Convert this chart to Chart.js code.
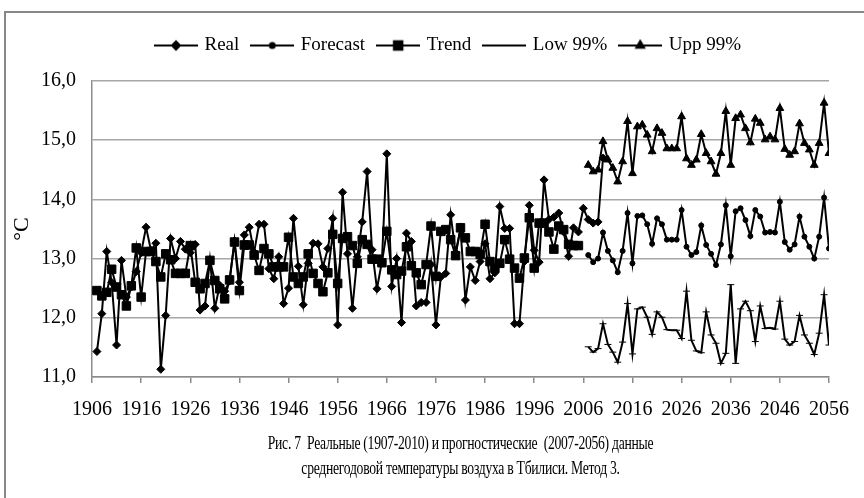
<!DOCTYPE html>
<html><head><meta charset="utf-8">
<script src="https://cdn.jsdelivr.net/npm/chart.js@4.4.1/dist/chart.umd.min.js"></script>
<style>html,body{margin:0;padding:0;background:#fff;} #wrap{position:relative;width:864px;height:498px;}</style>
</head><body><div id="wrap"><canvas id="c" width="864" height="498"></canvas></div>
<script>
// ---- data ----
const realStart = 1907;
const real = [11.43,12.07,13.12,12.60,11.54,12.97,12.35,12.52,12.78,13.10,
13.53,13.14,13.26,11.13,12.04,13.34,13.00,13.29,13.16,13.10,
13.24,12.13,12.20,12.98,12.16,12.55,12.45,12.62,13.30,12.60,
13.40,13.53,13.11,13.58,13.58,12.83,12.66,13.03,12.24,12.50,
13.68,12.87,12.22,12.92,13.26,13.25,12.86,13.17,13.68,11.88,
14.12,13.08,12.16,13.03,13.62,14.47,13.15,12.49,12.95,14.77,
12.53,13.00,11.92,13.43,13.29,12.20,12.26,12.26,12.90,11.88,
12.69,12.75,13.74,13.10,13.50,12.30,12.86,12.63,12.95,13.25,
12.66,12.76,13.88,13.51,13.51,11.90,11.90,12.95,13.90,13.14,
12.94,14.33,13.66,13.70,13.77,13.45,13.04,13.52,13.45,13.85,
13.66,13.60,13.62,14.70];
const trendStart = 1907;
const trend = [12.46,12.37,12.43,12.82,12.52,12.39,12.20,12.54,13.18,12.35,
13.12,13.12,12.95,12.69,13.08,12.98,12.75,12.75,12.75,13.22,
12.60,12.49,12.58,12.97,12.63,12.49,12.32,12.64,13.28,12.46,
13.23,13.23,13.06,12.80,13.17,13.08,12.86,12.86,12.86,13.36,
12.69,12.58,12.69,13.08,12.75,12.58,12.44,12.76,13.41,12.58,
13.34,13.37,13.22,12.92,13.32,13.24,12.99,12.99,12.93,13.46,
12.81,12.73,12.79,13.20,12.88,12.76,12.56,12.90,13.55,12.70,
13.46,13.49,13.32,13.05,13.52,13.35,13.12,13.12,13.07,13.58,
12.95,12.84,12.92,13.32,12.99,12.84,12.67,13.01,13.69,12.84,
13.60,13.60,13.45,13.16,13.55,13.49,13.24,13.22,13.22];
const forecastStart = 2007;
const forecast = [13.06,12.94,13.00,13.44,13.13,12.97,12.77,13.13,13.77,12.92,
13.72,13.73,13.58,13.25,13.68,13.58,13.32,13.32,13.32,13.82,
13.20,13.06,13.11,13.56,13.23,13.08,12.89,13.24,13.90,13.04,
13.80,13.85,13.65,13.38,13.82,13.71,13.44,13.45,13.44,13.96,
13.28,13.15,13.24,13.71,13.37,13.20,13.00,13.37,14.03,13.17];
const low99 = [11.51,11.42,11.48,11.90,11.55,11.42,11.25,11.59,12.24,11.39,
12.15,12.18,12.01,11.72,12.10,12.01,11.80,11.79,11.79,11.65,
12.45,11.62,11.44,11.41,12.10,11.71,11.57,11.23,11.40,12.56,
11.23,12.15,12.28,12.12,11.60,12.20,11.82,11.83,11.81,12.28,
11.64,11.54,11.60,12.04,11.71,11.57,11.38,11.74,12.39,11.54];
const upp99 = [14.58,14.47,14.50,14.98,14.67,14.53,14.30,14.64,15.32,14.44,
15.23,15.26,15.09,14.81,15.20,15.12,14.86,14.86,14.86,15.40,
14.69,14.58,14.67,15.10,14.78,14.64,14.43,14.78,15.49,14.58,
15.37,15.43,15.20,14.96,15.36,15.29,15.01,15.06,15.01,15.54,
14.85,14.75,14.81,15.28,14.95,14.84,14.58,14.95,15.63,14.78];
const xTickLabels = [1906,1916,1926,1936,1946,1956,1966,1976,1986,1996,2006,2016,2026,2036,2046,2056];
const yTickLabels = [11,12,13,14,15,16];
const seriesNames = ['Real','Forecast','Trend','Low 99%','Upp 99%'];
const yTitle = '°C';
const caption = ['Рис. 7  Реальные (1907-2010) и прогностические  (2007-2056) данные',
                 'среднегодовой температуры воздуха в Тбилиси. Метод 3.'];

// ---- helpers ----
function pts(start, arr){ return arr.map((v,i)=>({x:start+i, y:v})); }
const SERIF = "'Liberation Serif', 'Times New Roman', serif";
const styles = [
  {pointStyle:'rectRot', radius:4},
  {pointStyle:'circle', radius:2.5},
  {pointStyle:'rect', radius:6},
  {pointStyle:'line', radius:3.5},
  {pointStyle:'triangle', radius:4.5}
];
function legendSymbol(st){
  const cv = document.createElement('canvas');
  cv.width = 44; cv.height = 14;
  const g = cv.getContext('2d');
  g.strokeStyle = '#000'; g.fillStyle = '#000'; g.lineWidth = 2;
  g.beginPath(); g.moveTo(0,7); g.lineTo(44,7); g.stroke();
  Chart.helpers.drawPoint(g, {pointStyle: st.pointStyle, radius: st.radius, borderWidth: 1, rotation: 0}, 22, 7);
  return cv;
}
const sources = [[realStart, real],[forecastStart, forecast],[trendStart, trend],[forecastStart, low99],[forecastStart, upp99]];
const datasets = sources.map((s,i)=>({
  label: seriesNames[i],
  data: pts(s[0], s[1]),
  borderColor:'#000', backgroundColor:'#000', borderWidth:2,
  pointStyle: styles[i].pointStyle, pointRadius: styles[i].radius,
  pointBorderWidth:1, pointBackgroundColor:'#000', pointBorderColor:'#000',
  tension:0, fill:false
}));

const LEGEND_H = 59, LEGEND_DX = 32;
const framePlugin = {
  id:'frame',
  afterInit(chart){
    const lg = chart.legend;
    if (lg && !lg._patched){
      const f = lg.fit;
      lg.fit = function(){ f.call(this); this.height = LEGEND_H; };
      lg._patched = true;
    }
  },
  beforeDraw(chart){
    const c = chart.ctx; c.save();
    c.fillStyle='#fff'; c.fillRect(0,0,chart.width,chart.height);
    c.strokeStyle='#878787'; c.lineWidth=2;
    c.strokeRect(5,12,900,600);
    c.restore();
  },
  afterLayout(chart){
    if (chart.legend){ chart.legend.left += LEGEND_DX; chart.legend.right += LEGEND_DX; }
    const xs = chart.scales.x;
    if (xs && !xs._patched){
      const dt = xs.drawTitle;
      xs.drawTitle = function(){
        const c = this.ctx; c.save();
        const cx = (this.left + this.right) / 2;
        c.translate(cx, 0); c.scale(0.72, 1); c.translate(-cx, 0);
        try { c.letterSpacing = '-0.4px'; } catch(e) {}
        dt.apply(this, arguments);
        c.restore();
      };
      xs._patched = true;
    }
  }
};

new Chart(document.getElementById('c'), {
  type:'line',
  data:{datasets},
  plugins:[framePlugin],
  options:{
    responsive:false, animation:false, devicePixelRatio:1,
    layout:{padding:{left:0, right:30, top:22, bottom:17}},
    plugins:{
      legend:{
        display:true, position:'top',
        labels:{
          usePointStyle:true, pointStyleWidth:38, color:'#000', padding:14,
          font:{family:SERIF, size:19},
          generateLabels(chart){
            return seriesNames.map((n,i)=>({text:n, pointStyle:legendSymbol(styles[i]), datasetIndex:i, fontColor:'#000', lineWidth:0, strokeStyle:'#000', fillStyle:'#000'}));
          }
        }
      },
      tooltip:{enabled:false}
    },
    scales:{
      x:{
        type:'linear', min:1906, max:2056,
        afterBuildTicks(scale){ scale.ticks = xTickLabels.map(v=>({value:v})); },
        afterFit(scale){ scale.height = 104; },
        ticks:{callback:(v)=>String(v), color:'#000', font:{family:SERIF, size:20}, padding:15, maxRotation:0, autoSkip:false},
        grid:{display:true, drawOnChartArea:false, drawTicks:true, tickLength:6, color:'#8c8c8c', lineWidth:1.5},
        border:{display:true, color:'#8c8c8c', width:1.5},
        title:{display:true, text:caption, color:'#000', font:{family:SERIF, size:19, lineHeight:1.3}, padding:{top:4, bottom:0}}
      },
      y:{
        type:'linear', min:11, max:16,
        afterBuildTicks(scale){ scale.ticks = yTickLabels.map(v=>({value:v})); },
        afterFit(scale){ scale.width = 92; },
        ticks:{callback:(v)=>v.toFixed(1).replace('.',','), color:'#000', font:{family:SERIF, size:20}, padding:16},
        grid:{color:'#a6a6a6', lineWidth:1.5, drawTicks:false},
        border:{display:true, color:'#8c8c8c', width:1.5},
        title:{display:true, text:yTitle, color:'#000', font:{family:SERIF, size:22}, padding:{top:9, bottom:0}}
      }
    }
  }
});
</script></body></html>
